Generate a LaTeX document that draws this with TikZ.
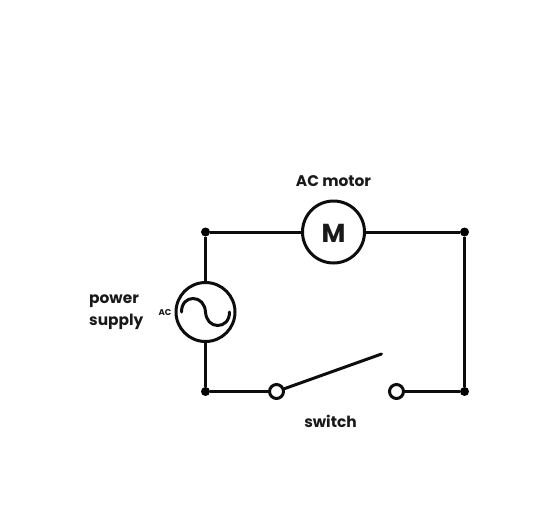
\documentclass[tikz,border=0pt]{standalone}
\usepackage{fontspec}
\setmainfont{Poppins}
\tikzset{
  wire/.style={line width=3pt,black!95!white},
  ring/.style={circle,draw=black!95!white,line width=3pt,fill=white,inner sep=0pt},
  junction/.style={circle,fill=black,inner sep=0pt,minimum size=9pt},
  terminal/.style={circle,draw=black!95!white,line width=3pt,fill=white,inner sep=0pt,minimum size=14pt},
  caption/.style={font=\fontsize{15.4}{20}\selectfont\bfseries,text=black!90!white,inner sep=0pt,align=left}
}
\begin{document}
\begin{tikzpicture}[x=1pt,y=-1pt]
\useasboundingbox (0,0) rectangle (545,520);
\node[junction] (tl) at (205.5,232) {};
\node[junction] (tr) at (464.5,232) {};
\node[junction] (bl) at (205.5,391.5) {};
\node[junction] (br) at (464.5,391.5) {};
\node[ring,minimum size=62pt] (motor) at (333.5,232) {};
\node[ring,minimum size=59pt] (supply) at (205.5,312) {};
\node[terminal] (s1) at (276.5,391.5) {};
\node[terminal] (s2) at (396.5,391.5) {};
\coordinate (bladeend) at (381.5,354);
\draw[wire] (tl) -- (motor) (motor) -- (tr) (tr) -- (br) (br) -- (s2) (s1) -- (bl) (bl) -- (supply) (supply) -- (tl);
\draw[wire,line cap=round] (s1) -- (bladeend);
\draw[wire,line cap=round] (181.5,312) .. controls (181.5,303) and (187,298.5) .. (193,298.5)
  .. controls (200,298.5) and (205,304) .. (205.5,312)
  .. controls (206,320) and (211,325.5) .. (217.5,325.5)
  .. controls (224,325.5) and (229.5,321) .. (229.5,312);
\node[font=\fontsize{26}{30}\selectfont\bfseries,text=black!90!white,inner sep=0pt,anchor=base] (mlabel) at (333.5,242.5) {M};
\node[caption,anchor=base] (motorcap) at (333.5,186) {AC motor};
\node[caption,anchor=base] (switchcap) at (330.5,427) {switch};
\node[caption,anchor=base west] (powercap) at (89,303.5) {power};
\node[caption,anchor=base west] (supplycap) at (89,325) {supply};
\node[font=\fontsize{8.5}{10}\selectfont\bfseries,text=black!90!white,inner sep=0pt,anchor=base] (aclabel) at (165,315) {AC};
\end{tikzpicture}
\end{document}
